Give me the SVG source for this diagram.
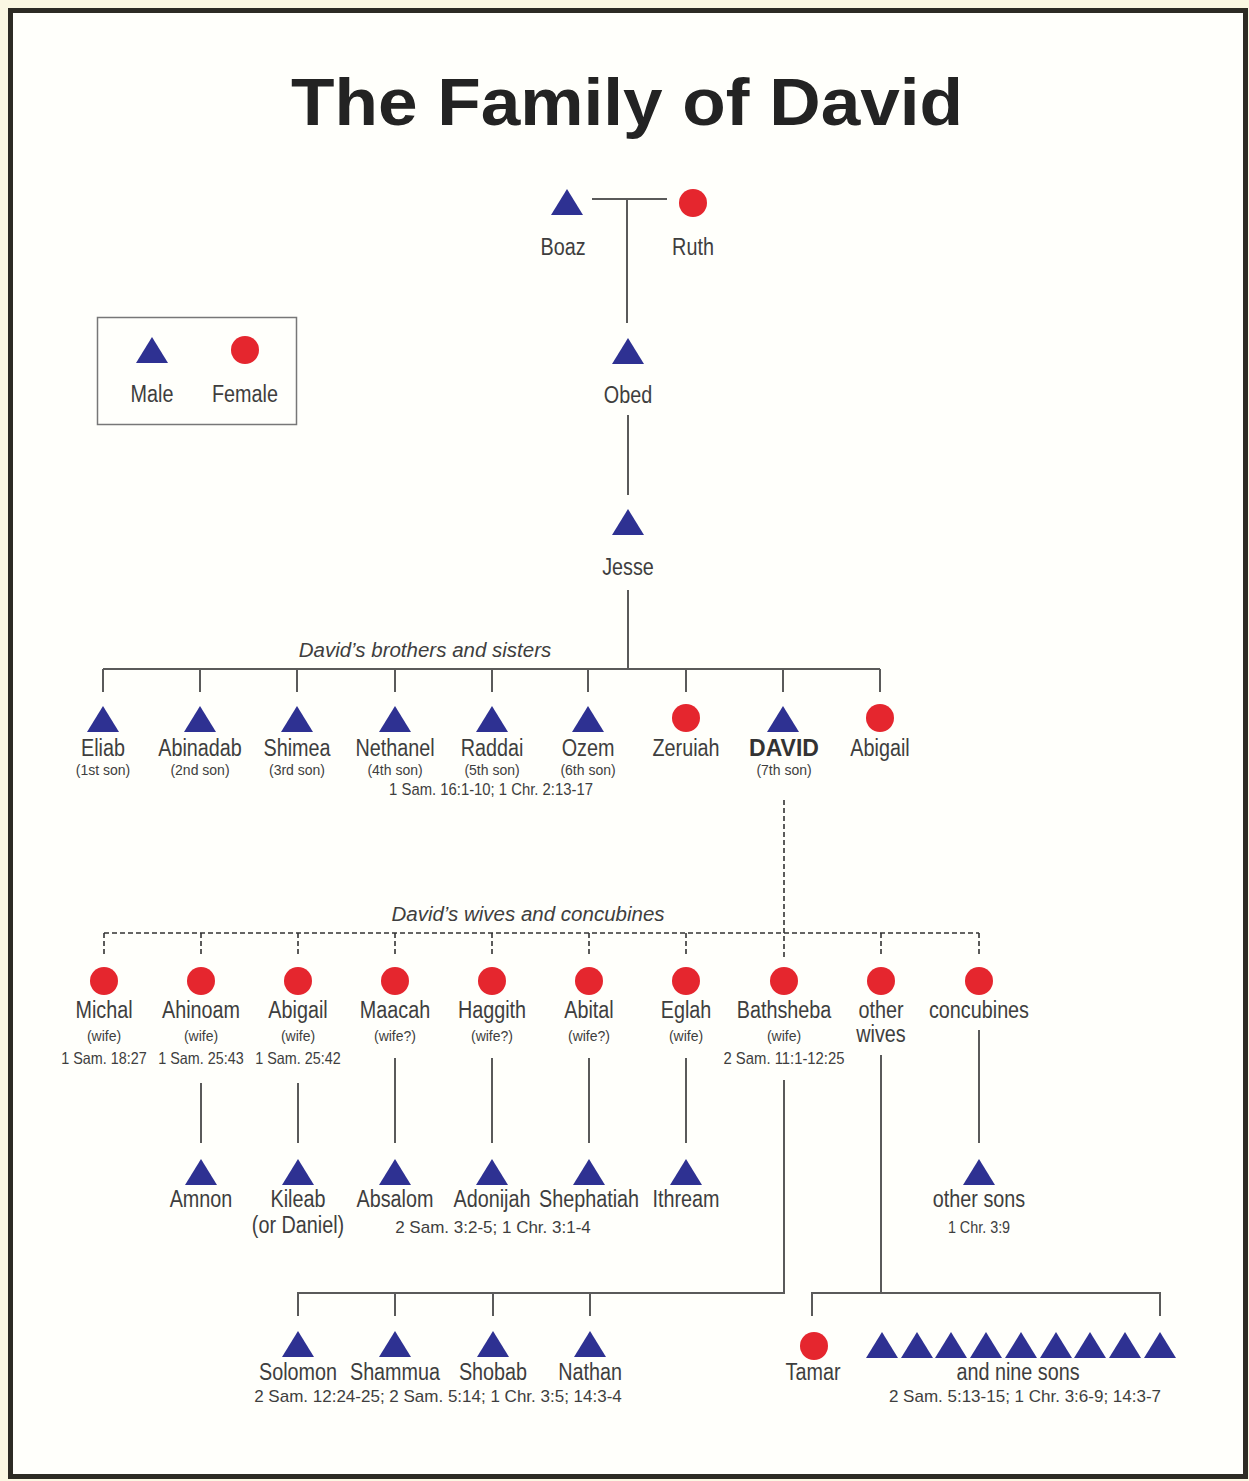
<svg xmlns="http://www.w3.org/2000/svg" width="1249" height="1481" viewBox="0 0 1249 1481">
<defs>
<style>
text{font-family:"Liberation Sans",Arial,sans-serif;text-anchor:middle;fill:#3e3e3e}
.n{font-size:23px}
.s{font-size:14px}
.r{font-size:16.5px}
.r2{font-size:17px}
.i{font-size:20.5px;font-style:italic}
.t{font-size:66px;font-weight:bold;fill:#232323}
.b{font-size:23px;font-weight:bold;fill:#333}
.ln{stroke:#5a5a5a;stroke-width:2;fill:none}
.dl{stroke:#333;stroke-width:1.6;fill:none;stroke-dasharray:5 3}
.m{fill:#2e3192}
.f{fill:#e5262e}
</style>
<path id="tri" d="M0 -13 L16 13 L-16 13 Z"/>
</defs>
<rect x="0" y="0" width="1249" height="1481" fill="#fbf8e3"/>
<rect x="10.5" y="10.5" width="1235" height="1466" fill="#fffffb" stroke="#2d2b24" stroke-width="5"/>
<text class="t" x="627" y="125" textLength="672" lengthAdjust="spacingAndGlyphs">The Family of David</text>

<g id="connectors">
<path class="ln" d="M592 199 H667 M627 199 V323 M628 415 V495 M628 590 V669 M103 669 H880 M103 669 V692 M200 669 V692 M297 669 V692 M395 669 V692 M492 669 V692 M588 669 V692 M686 669 V692 M783 669 V692 M880 669 V692"/>
<path class="dl" d="M784 800 V957 M104 933 H979 M104 933 V957 M201 933 V957 M298 933 V957 M395 933 V957 M492 933 V957 M589 933 V957 M686 933 V957 M881 933 V957 M979 933 V957"/>
<path class="ln" d="M201 1083 V1143 M298 1083 V1143 M395 1058 V1143 M492 1058 V1143 M589 1058 V1143 M686 1058 V1143 M979 1030 V1143"/>
<path class="ln" d="M784 1080 V1293 H298 V1316 M395 1293 V1316 M493 1293 V1316 M590 1293 V1316 M881 1055 V1293 M812 1316 V1293 H1160 V1316"/>
</g>

<g id="legend">
<rect x="97.5" y="317.5" width="199" height="107" fill="none" stroke="#777" stroke-width="1.5"/>
<use href="#tri" class="m" x="152" y="350"/>
<circle class="f" cx="245" cy="350" r="14"/>
<text class="n" transform="translate(152 402) scale(.86 1)">Male</text>
<text class="n" transform="translate(245 402) scale(.86 1)">Female</text>
</g>

<g id="boaz"><use href="#tri" class="m" x="567" y="202"/><text class="n" transform="translate(563 255) scale(.86 1)">Boaz</text></g>
<g id="ruth"><circle class="f" cx="693" cy="203" r="14"/><text class="n" transform="translate(693 255) scale(.86 1)">Ruth</text></g>
<g id="obed"><use href="#tri" class="m" x="628" y="351"/><text class="n" transform="translate(628 403) scale(.86 1)">Obed</text></g>
<g id="jesse"><use href="#tri" class="m" x="628" y="522"/><text class="n" transform="translate(628 575) scale(.86 1)">Jesse</text></g>

<text class="i" x="425" y="657">David’s brothers and sisters</text>
<g id="eliab"><use href="#tri" class="m" x="103" y="719"/><text class="n" transform="translate(103 756) scale(.86 1)">Eliab</text><text class="s" x="103" y="775">(1st son)</text></g>
<g id="abinadab"><use href="#tri" class="m" x="200" y="719"/><text class="n" transform="translate(200 756) scale(.86 1)">Abinadab</text><text class="s" x="200" y="775">(2nd son)</text></g>
<g id="shimea"><use href="#tri" class="m" x="297" y="719"/><text class="n" transform="translate(297 756) scale(.86 1)">Shimea</text><text class="s" x="297" y="775">(3rd son)</text></g>
<g id="nethanel"><use href="#tri" class="m" x="395" y="719"/><text class="n" transform="translate(395 756) scale(.86 1)">Nethanel</text><text class="s" x="395" y="775">(4th son)</text></g>
<g id="raddai"><use href="#tri" class="m" x="492" y="719"/><text class="n" transform="translate(492 756) scale(.86 1)">Raddai</text><text class="s" x="492" y="775">(5th son)</text></g>
<g id="ozem"><use href="#tri" class="m" x="588" y="719"/><text class="n" transform="translate(588 756) scale(.86 1)">Ozem</text><text class="s" x="588" y="775">(6th son)</text></g>
<g id="zeruiah"><circle class="f" cx="686" cy="718" r="14"/><text class="n" transform="translate(686 756) scale(.86 1)">Zeruiah</text></g>
<g id="david"><use href="#tri" class="m" x="783" y="719"/><text class="b" x="784" y="756">DAVID</text><text class="s" x="784" y="775">(7th son)</text></g>
<g id="abigail-sister"><circle class="f" cx="880" cy="718" r="14"/><text class="n" transform="translate(880 756) scale(.86 1)">Abigail</text></g>
<text class="r" transform="translate(491 795) scale(.9 1)">1 Sam. 16:1-10; 1 Chr. 2:13-17</text>

<text class="i" x="528" y="921">David’s wives and concubines</text>
<g id="michal"><circle class="f" cx="104" cy="981" r="14"/><text class="n" transform="translate(104 1018) scale(.86 1)">Michal</text><text class="s" x="104" y="1041">(wife)</text><text class="r" transform="translate(104 1064) scale(.87 1)">1 Sam. 18:27</text></g>
<g id="ahinoam"><circle class="f" cx="201" cy="981" r="14"/><text class="n" transform="translate(201 1018) scale(.86 1)">Ahinoam</text><text class="s" x="201" y="1041">(wife)</text><text class="r" transform="translate(201 1064) scale(.87 1)">1 Sam. 25:43</text></g>
<g id="abigail-wife"><circle class="f" cx="298" cy="981" r="14"/><text class="n" transform="translate(298 1018) scale(.86 1)">Abigail</text><text class="s" x="298" y="1041">(wife)</text><text class="r" transform="translate(298 1064) scale(.87 1)">1 Sam. 25:42</text></g>
<g id="maacah"><circle class="f" cx="395" cy="981" r="14"/><text class="n" transform="translate(395 1018) scale(.86 1)">Maacah</text><text class="s" x="395" y="1041">(wife?)</text></g>
<g id="haggith"><circle class="f" cx="492" cy="981" r="14"/><text class="n" transform="translate(492 1018) scale(.86 1)">Haggith</text><text class="s" x="492" y="1041">(wife?)</text></g>
<g id="abital"><circle class="f" cx="589" cy="981" r="14"/><text class="n" transform="translate(589 1018) scale(.86 1)">Abital</text><text class="s" x="589" y="1041">(wife?)</text></g>
<g id="eglah"><circle class="f" cx="686" cy="981" r="14"/><text class="n" transform="translate(686 1018) scale(.86 1)">Eglah</text><text class="s" x="686" y="1041">(wife)</text></g>
<g id="bathsheba"><circle class="f" cx="784" cy="981" r="14"/><text class="n" transform="translate(784 1018) scale(.86 1)">Bathsheba</text><text class="s" x="784" y="1041">(wife)</text><text class="r" transform="translate(784 1064) scale(.9 1)">2 Sam. 11:1-12:25</text></g>
<g id="other-wives"><circle class="f" cx="881" cy="981" r="14"/><text class="n" transform="translate(881 1018) scale(.86 1)">other</text><text class="n" transform="translate(881 1042) scale(.86 1)">wives</text></g>
<g id="concubines"><circle class="f" cx="979" cy="981" r="14"/><text class="n" transform="translate(979 1018) scale(.86 1)">concubines</text></g>

<g id="amnon"><use href="#tri" class="m" x="201" y="1172"/><text class="n" transform="translate(201 1207) scale(.86 1)">Amnon</text></g>
<g id="kileab"><use href="#tri" class="m" x="298" y="1172"/><text class="n" transform="translate(298 1207) scale(.86 1)">Kileab</text><text class="n" transform="translate(298 1233) scale(.86 1)">(or Daniel)</text></g>
<g id="absalom"><use href="#tri" class="m" x="395" y="1172"/><text class="n" transform="translate(395 1207) scale(.86 1)">Absalom</text></g>
<g id="adonijah"><use href="#tri" class="m" x="492" y="1172"/><text class="n" transform="translate(492 1207) scale(.86 1)">Adonijah</text></g>
<g id="shephatiah"><use href="#tri" class="m" x="589" y="1172"/><text class="n" transform="translate(589 1207) scale(.86 1)">Shephatiah</text></g>
<g id="ithream"><use href="#tri" class="m" x="686" y="1172"/><text class="n" transform="translate(686 1207) scale(.86 1)">Ithream</text></g>
<text class="r2" x="493" y="1233">2 Sam. 3:2-5; 1 Chr. 3:1-4</text>
<g id="other-sons"><use href="#tri" class="m" x="979" y="1172"/><text class="n" transform="translate(979 1207) scale(.86 1)">other sons</text><text class="r" transform="translate(979 1233) scale(.87 1)">1 Chr. 3:9</text></g>

<g id="solomon"><use href="#tri" class="m" x="298" y="1344"/><text class="n" transform="translate(298 1380) scale(.86 1)">Solomon</text></g>
<g id="shammua"><use href="#tri" class="m" x="395" y="1344"/><text class="n" transform="translate(395 1380) scale(.86 1)">Shammua</text></g>
<g id="shobab"><use href="#tri" class="m" x="493" y="1344"/><text class="n" transform="translate(493 1380) scale(.86 1)">Shobab</text></g>
<g id="nathan"><use href="#tri" class="m" x="590" y="1344"/><text class="n" transform="translate(590 1380) scale(.86 1)">Nathan</text></g>
<text class="r2" x="438" y="1402">2 Sam. 12:24-25; 2 Sam. 5:14; 1 Chr. 3:5; 14:3-4</text>

<g id="tamar"><circle class="f" cx="814" cy="1346" r="14"/><text class="n" transform="translate(813 1380) scale(.86 1)">Tamar</text></g>
<g id="nine-sons">
<use href="#tri" class="m" x="882" y="1345"/><use href="#tri" class="m" x="917" y="1345"/><use href="#tri" class="m" x="951" y="1345"/><use href="#tri" class="m" x="986" y="1345"/><use href="#tri" class="m" x="1021" y="1345"/><use href="#tri" class="m" x="1056" y="1345"/><use href="#tri" class="m" x="1090" y="1345"/><use href="#tri" class="m" x="1125" y="1345"/><use href="#tri" class="m" x="1160" y="1345"/>
<text class="n" transform="translate(1018 1380) scale(.86 1)">and nine sons</text>
<text class="r2" x="1025" y="1402">2 Sam. 5:13-15; 1 Chr. 3:6-9; 14:3-7</text>
</g>
</svg>
